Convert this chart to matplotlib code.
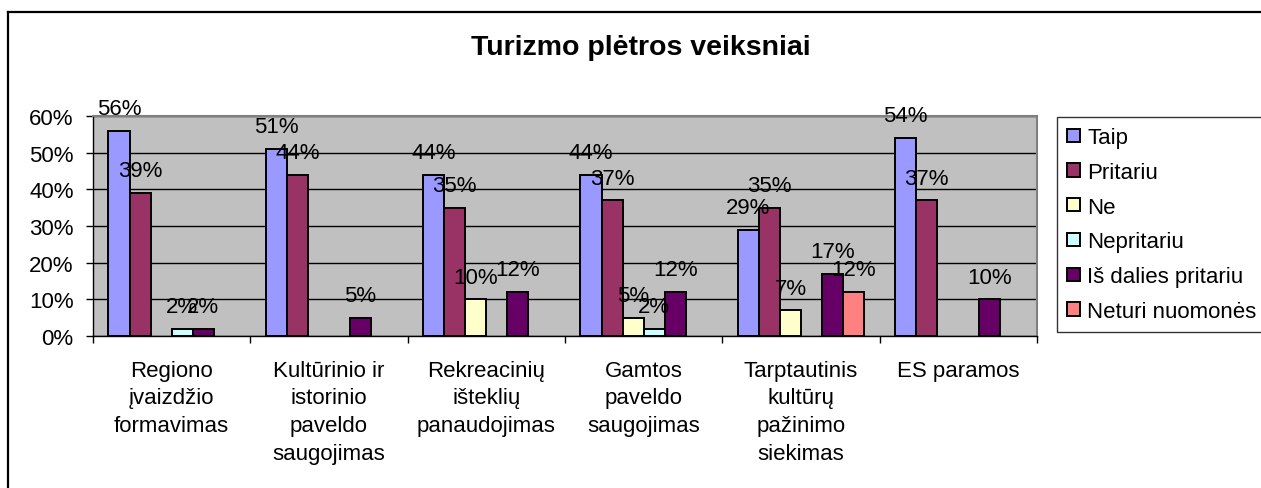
import numpy as np
import matplotlib
matplotlib.use("Agg")
import matplotlib.pyplot as plt
from matplotlib.lines import Line2D

plt.rcParams['font.family'] = ['Liberation Sans', 'DejaVu Sans']

# data
categories = ["Regiono\nįvaizdžio\nformavimas",
              "Kultūrinio ir\nistorinio\npaveldo\nsaugojimas",
              "Rekreacinių\ništeklių\npanaudojimas",
              "Gamtos\npaveldo\nsaugojimas",
              "Tarptautinis\nkultūrų\npažinimo\nsiekimas",
              "ES paramos"]
series_names = ["Taip", "Pritariu", "Ne", "Nepritariu", "Iš dalies pritariu", "Neturi nuomonės"]
taip = [56, 51, 44, 44, 29, 54]
pritariu = [39, 44, 35, 37, 35, 37]
ne = [0, 0, 10, 5, 7, 0]
nepritariu = [2, 0, 0, 2, 0, 0]
is_dalies = [2, 5, 12, 12, 17, 10]
neturi = [0, 0, 0, 0, 12, 0]
colors = ["#9999FF", "#993366", "#FFFFCC", "#CCFFFF", "#660066", "#FF8080"]
yticks = [0, 10, 20, 30, 40, 50, 60]

all_series = [taip, pritariu, ne, nepritariu, is_dalies, neturi]

W, H = 1261, 489
fig = plt.figure(figsize=(W / 100, H / 100), dpi=100)
ax = fig.add_axes([93 / W, 1 - 337 / H, (1037 - 93) / W, (337 - 117) / H])
ax.set_facecolor("#C0C0C0")

x = np.arange(len(categories))
bw = 0.134
FS = 16
for i, (name, vals, c) in enumerate(zip(series_names, all_series, colors)):
    pos = x + (i - 2.5) * bw
    # zero values are not drawn at all (as in the original)
    heights = [v if v > 0 else np.nan for v in vals]
    ax.bar(pos, heights, bw, color=c, edgecolor="black", linewidth=1.4, label=name, zorder=3)
    for p, v in zip(pos, vals):
        if v > 0:
            ax.annotate(f"{v}%", (p, v), xytext=(0, 12), textcoords="offset points",
                        ha="center", va="baseline", fontsize=FS, zorder=5,
                        annotation_clip=False)

ax.set_ylim(0, 60)
ax.set_yticks(yticks)
ax.set_yticklabels([f"{t}%" for t in yticks], fontsize=FS)
ax.yaxis.grid(True, color="black", linewidth=1.0, zorder=1)
ax.set_axisbelow(True)
ax.tick_params(axis="y", direction="out", length=5, width=1, pad=9)

ax.set_xlim(-0.5, len(categories) - 0.5)
ax.set_xticks(np.arange(len(categories) + 1) - 0.5)
ax.set_xticklabels([])
ax.tick_params(axis="x", which="major", direction="out", length=5, width=1)
ax.set_xticks(x, minor=True)
ax.set_xticklabels(categories, minor=True, fontsize=FS, linespacing=1.42)
ax.tick_params(axis="x", which="minor", length=0, pad=17)

for s in ["left", "bottom"]:
    ax.spines[s].set_color("black")
    ax.spines[s].set_linewidth(1.0)
for s in ["top", "right"]:
    ax.spines[s].set_color("#808080")
    ax.spines[s].set_linewidth(1.5)

fig.text(641 / W, 1 - 48 / H, "Turizmo plėtros veiksniai", ha="center", va="center",
         fontsize=20.5, fontweight="bold")

leg = fig.legend(loc="upper left", bbox_to_anchor=(1057 / W, 1 - 118 / H),
                 fontsize=FS, frameon=True, fancybox=False, edgecolor="black",
                 handlelength=0.58, handleheight=0.54, handletextpad=0.32,
                 labelspacing=0.62, borderpad=0.45, borderaxespad=0)
leg.get_frame().set_linewidth(1.0)

# outer chart frame
fig.add_artist(Line2D([7.5 / W, 7.5 / W], [0, 1 - 13 / H], transform=fig.transFigure,
                      color="black", linewidth=1.6))
fig.add_artist(Line2D([7.5 / W, 1], [1 - 13 / H, 1 - 13 / H], transform=fig.transFigure,
                      color="black", linewidth=1.6))

fig.savefig("out.png", dpi=100)
